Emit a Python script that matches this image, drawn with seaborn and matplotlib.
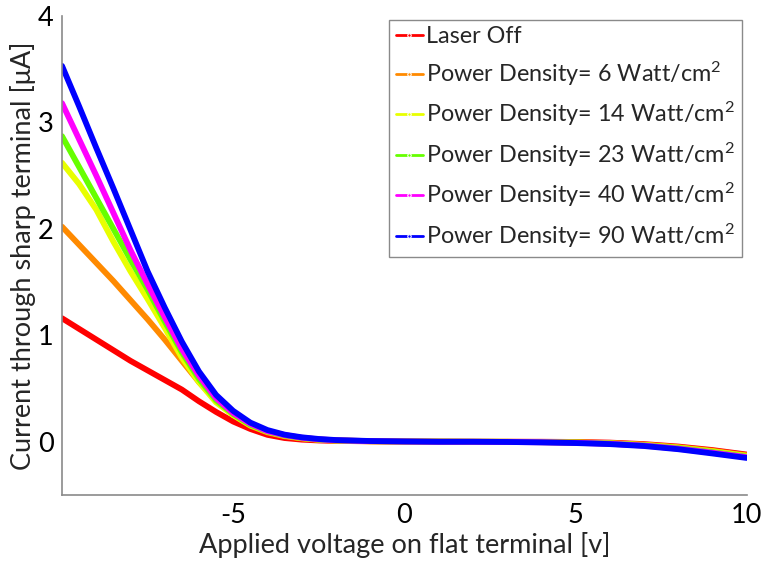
import numpy as np
import pandas as pd
import seaborn as sns
import matplotlib
matplotlib.use("Agg")
import matplotlib.pyplot as plt

# Applied voltage on the flat terminal [V]
voltage = [-10, -9.5, -9, -8.5, -8, -7.5, -7, -6.5, -6, -5.5, -5, -4.5, -4, -3.5,
           -3, -2.5, -2, -1, 0, 1, 2, 3, 4, 5, 6, 7, 8, 9, 10]

# Current through the sharp terminal [uA] for each illumination condition
laser_off = [1.16, 1.06, 0.96, 0.86, 0.76, 0.67, 0.58, 0.49, 0.38, 0.28, 0.19, 0.12, 0.065, 0.035,
             0.02, 0.012, 0.008, 0.004, 0.002, 0.001, 0.0, 0.0, 0.0, -0.002, -0.008, -0.022, -0.045, -0.078, -0.12]
pd_6 = [2.02, 1.85, 1.68, 1.51, 1.33, 1.15, 0.96, 0.76, 0.56, 0.39, 0.25, 0.15, 0.088, 0.052,
        0.031, 0.018, 0.011, 0.005, 0.002, 0.001, 0.0, 0.0, -0.002, -0.005, -0.012, -0.027, -0.05, -0.085, -0.127]
pd_14 = [2.62, 2.42, 2.18, 1.88, 1.60, 1.34, 1.07, 0.79, 0.56, 0.37, 0.25, 0.155, 0.093, 0.056,
         0.034, 0.02, 0.012, 0.005, 0.002, 0.001, 0.0, -0.001, -0.003, -0.007, -0.015, -0.03, -0.055, -0.09, -0.133]
pd_23 = [2.87, 2.58, 2.29, 2.00, 1.71, 1.43, 1.13, 0.84, 0.59, 0.39, 0.26, 0.16, 0.097, 0.059,
         0.036, 0.021, 0.013, 0.006, 0.002, 0.001, 0.0, -0.001, -0.004, -0.008, -0.017, -0.033, -0.06, -0.097, -0.14]
pd_40 = [3.18, 2.84, 2.50, 2.15, 1.80, 1.48, 1.17, 0.87, 0.62, 0.41, 0.27, 0.17, 0.10, 0.063,
         0.038, 0.023, 0.014, 0.006, 0.002, 0.0, 0.0, -0.002, -0.005, -0.01, -0.019, -0.036, -0.065, -0.103, -0.145]
pd_90 = [3.53, 3.15, 2.76, 2.38, 1.99, 1.60, 1.26, 0.94, 0.66, 0.44, 0.29, 0.18, 0.11, 0.067,
         0.042, 0.026, 0.016, 0.007, 0.003, 0.0, 0.0, -0.002, -0.006, -0.012, -0.022, -0.04, -0.07, -0.11, -0.152]

series_labels = [
    "Laser Off",
    "Power Density= 6 Watt/cm$^2$",
    "Power Density= 14 Watt/cm$^2$",
    "Power Density= 23 Watt/cm$^2$",
    "Power Density= 40 Watt/cm$^2$",
    "Power Density= 90 Watt/cm$^2$",
]
series_values = [laser_off, pd_6, pd_14, pd_23, pd_40, pd_90]
series_colors = ["#ff0000", "#ff8a00", "#e8ff00", "#66ff00", "#ff00ff", "#0000ff"]

x_ticks = [-5, 0, 5, 10]
y_ticks = [0, 1, 2, 3, 4]

df = pd.concat(
    [pd.DataFrame({"V": voltage, "I": vals, "cond": lab})
     for lab, vals in zip(series_labels, series_values)],
    ignore_index=True,
)

sns.set_theme(style="white")
plt.rcParams["font.family"] = ["Lato", "DejaVu Sans"]
plt.rcParams["mathtext.fontset"] = "custom"
plt.rcParams["mathtext.rm"] = "Lato"
plt.rcParams["mathtext.it"] = "Lato:italic"

fig = plt.figure(figsize=(7.63, 5.67), dpi=100)
ax = fig.add_axes([0.0813, 0.127, 0.8973, 0.845])

sns.lineplot(data=df, x="V", y="I", hue="cond", hue_order=series_labels,
             palette=series_colors, linewidth=4.2, ax=ax, sort=False,
             solid_capstyle="round", solid_joinstyle="round")

ax.set_xlim(-10, 10)
ax.set_ylim(-0.5, 4)
ax.set_xticks(x_ticks)
ax.set_yticks(y_ticks)
ax.set_xticklabels([str(t) for t in x_ticks])
ax.set_yticklabels([str(t) for t in y_ticks])

grey = "#8a8a8a"
for side in ["top", "right"]:
    ax.spines[side].set_visible(False)
for side in ["left", "bottom"]:
    ax.spines[side].set_color(grey)
    ax.spines[side].set_linewidth(1.2)
ax.tick_params(axis="both", direction="in", length=5, width=1, color=grey,
               labelsize=19.5, pad=6, labelcolor="black")

ax.set_xlabel("Applied voltage on flat terminal [v]", fontsize=19.5, labelpad=3)
ax.set_ylabel("Current through sharp terminal [\u03bcA]", fontsize=19.5, labelpad=1)

leg = ax.legend(loc="upper right", bbox_to_anchor=(0.9925, 0.992), fontsize=16.8,
                frameon=True, fancybox=False, edgecolor=grey, framealpha=1,
                handlelength=1.15, handletextpad=0.15, labelspacing=0.525,
                borderpad=0.28, borderaxespad=0.0)
leg.get_frame().set_linewidth(1.0)
for line in leg.get_lines():
    line.set_linewidth(2.0)
    line.set_marker(".")
    line.set_markersize(5)

fig.savefig("out.png", dpi=100)
